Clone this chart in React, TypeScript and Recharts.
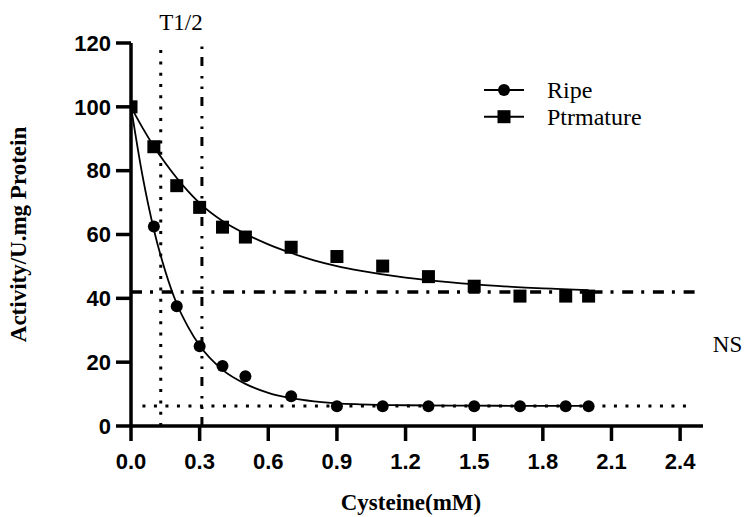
import React from 'react';
import {
  ComposedChart,
  Line,
  Scatter,
  XAxis,
  YAxis,
  ReferenceLine,
} from 'recharts';

// Measured enzyme activity at each cysteine concentration (mM)
const cysteine = [0, 0.1, 0.2, 0.3, 0.4, 0.5, 0.7, 0.9, 1.1, 1.3, 1.5, 1.7, 1.9, 2.0];
const ripeActivity = [100, 62.5, 37.5, 25.0, 18.8, 15.6, 9.3, 6.2, 6.2, 6.2, 6.2, 6.2, 6.2, 6.2];
const prematureActivity = [100, 87.5, 75.3, 68.5, 62.3, 59.2, 56.0, 53.1, 50.1, 46.8, 43.8, 40.7, 40.7, 40.7];

// Fitted decay curves
const fitX = [0, 0.05, 0.1, 0.15, 0.2, 0.25, 0.3, 0.4, 0.5, 0.6, 0.7, 0.8, 0.9, 1.0, 1.2, 1.4, 1.6, 1.8, 2.0];
const ripeFit = [100, 78.5, 61.5, 48.5, 38.3, 31.0, 25.2, 17.6, 13.2, 10.4, 8.7, 7.7, 7.1, 6.8, 6.5, 6.4, 6.35, 6.3, 6.3];
const prematureFit = [100, 93.5, 87.6, 82.4, 77.7, 73.5, 69.8, 64.2, 60.2, 56.9, 54.2, 51.9, 50.1, 48.7, 46.5, 45.0, 43.9, 43.1, 42.6];

const xTicks = [0, 0.3, 0.6, 0.9, 1.2, 1.5, 1.8, 2.1, 2.4];
const yTicks = [0, 20, 40, 60, 80, 100, 120];

// Half-life markers and plateau levels
const halfLifeRipe = 0.13;
const halfLifePremature = 0.31;
const ripePlateau = 6.3;
const prematurePlateau = 42;

const SERIES = [
  { name: 'Ripe', shape: 'circle' },
  { name: 'Ptrmature', shape: 'square' },
];

const ripePoints = cysteine.map((x, i) => ({ x, y: ripeActivity[i] }));
const prematurePoints = cysteine.map((x, i) => ({ x, y: prematureActivity[i] }));
const ripeCurve = fitX.map((x, i) => ({ x, y: ripeFit[i] }));
const prematureCurve = fitX.map((x, i) => ({ x, y: prematureFit[i] }));

const SERIF = '"Liberation Serif", "Times New Roman", serif';
const SANS = '"Liberation Sans", Arial, sans-serif';

const CircleMark = (p: any) => <circle cx={p.cx} cy={p.cy} r={6} fill="#000" />;
const SquareMark = (p: any) => (
  <rect x={p.cx - 6.5} y={p.cy - 6.5} width={13} height={13} fill="#000" />
);

const tickStyle = { fill: '#000', fontSize: 22, fontWeight: 700, fontFamily: SANS };

const LegendBox = () => (
  <svg width={220} height={60} style={{ position: 'absolute', left: 480, top: 74 }}>
    {SERIES.map((s, i) => {
      const cy = 16 + i * 26.7;
      return (
        <g key={s.name}>
          <line x1={4} x2={44} y1={cy} y2={cy} stroke="#000" strokeWidth={2} />
          {s.shape === 'circle' ? (
            <circle cx={24} cy={cy} r={6} fill="#000" />
          ) : (
            <rect x={17.5} y={cy - 6.5} width={13} height={13} fill="#000" />
          )}
          <text x={67} y={cy + 8} fontFamily={SERIF} fontSize={24} fill="#000">
            {s.name}
          </text>
        </g>
      );
    })}
  </svg>
);

const yTitle = (props: any) => {
  const vb = props.viewBox;
  const cy = vb.y + vb.height / 2;
  return (
    <text
      x={18}
      y={cy}
      transform={`rotate(-90, 18, ${cy})`}
      textAnchor="middle"
      dominantBaseline="central"
      fontFamily={SERIF}
      fontWeight={700}
      fontSize={23}
      fill="#000"
    >
      Activity/U.mg Protein
    </text>
  );
};

const xTitle = (props: any) => {
  const vb = props.viewBox;
  return (
    <text
      x={vb.x + vb.width / 2 - 6}
      y={vb.y + 76}
      textAnchor="middle"
      dominantBaseline="central"
      fontFamily={SERIF}
      fontWeight={700}
      fontSize={23}
      fill="#000"
    >
      Cysteine(mM)
    </text>
  );
};

const halfLifeTitle = (props: any) => {
  const vb = props.viewBox;
  return (
    <text x={vb.x - 21} y={vb.y - 13} textAnchor="middle" fontFamily={SERIF} fontSize={23} fill="#000">
      T1/2
    </text>
  );
};

const nsTitle = (props: any) => {
  const vb = props.viewBox;
  return (
    <text
      x={vb.x + vb.width + 19}
      y={vb.y - 61}
      dominantBaseline="central"
      fontFamily={SERIF}
      fontSize={23}
      fill="#000"
    >
      NS
    </text>
  );
};

export default function App() {
  return (
    <div style={{ position: 'absolute', left: 0, top: 0, width: 744, height: 517, background: '#fff' }}>
      <ComposedChart width={744} height={517} margin={{ top: 43, right: 41, bottom: 0, left: 0 }}>
        <XAxis
          type="number"
          dataKey="x"
          domain={[0, 2.5]}
          ticks={xTicks}
          tickFormatter={(v: number) => v.toFixed(1)}
          allowDataOverflow
          height={91}
          axisLine={{ stroke: '#000', strokeWidth: 3.5 }}
          tickLine={{ stroke: '#000', strokeWidth: 3.5 }}
          tickSize={15}
          tickMargin={12}
          tick={tickStyle}
          label={xTitle}
        />
        <YAxis
          type="number"
          dataKey="y"
          domain={[0, 120]}
          ticks={yTicks}
          width={131}
          axisLine={{ stroke: '#000', strokeWidth: 3.5 }}
          tickLine={{ stroke: '#000', strokeWidth: 3.5 }}
          tickSize={15}
          tickMargin={5}
          tick={tickStyle}
          label={yTitle}
        />
        <ReferenceLine
          x={halfLifeRipe}
          stroke="#000"
          strokeWidth={3}
          strokeDasharray="3 8.3"
        />
        <ReferenceLine
          x={halfLifePremature}
          stroke="#000"
          strokeWidth={3}
          strokeDasharray="9 8 2.5 8 2.5 10"
          label={halfLifeTitle}
        />
        <ReferenceLine
          segment={[{ x: 0, y: prematurePlateau }, { x: 2.49, y: prematurePlateau }]}
          stroke="#000"
          strokeWidth={3.5}
          strokeDasharray="11 8 3 8.7"
        />
        <ReferenceLine
          segment={[{ x: 0.05, y: ripePlateau }, { x: 2.46, y: ripePlateau }]}
          stroke="#000"
          strokeWidth={3}
          strokeDasharray="3 8.5"
          label={nsTitle}
        />
        <Line
          data={ripeCurve}
          dataKey="y"
          type="monotone"
          stroke="#000"
          strokeWidth={1.8}
          dot={false}
          activeDot={false}
          legendType="none"
          isAnimationActive={false}
        />
        <Line
          data={prematureCurve}
          dataKey="y"
          type="monotone"
          stroke="#000"
          strokeWidth={1.8}
          dot={false}
          activeDot={false}
          legendType="none"
          isAnimationActive={false}
        />
        <Scatter name="Ripe" data={ripePoints} dataKey="y" shape={CircleMark} isAnimationActive={false} />
        <Scatter name="Ptrmature" data={prematurePoints} dataKey="y" shape={SquareMark} isAnimationActive={false} />
      </ComposedChart>
      <LegendBox />
    </div>
  );
}
